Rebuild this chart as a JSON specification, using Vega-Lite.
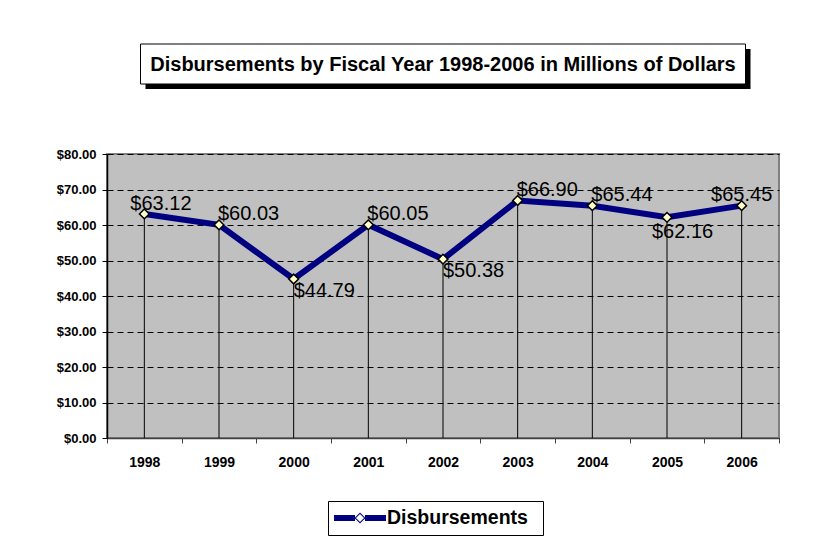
{
  "$schema": "https://vega.github.io/schema/vega-lite/v6.json",
  "background": "white",
  "padding": {"left": 55, "top": 43, "right": 10, "bottom": 10},
  "config": {
    "font": "Liberation Sans",
    "view": {"stroke": null}
  },
  "vconcat": [
    {
      "width": 605,
      "height": 40,
      "view": {"stroke": null, "fill": null},
      "data": {"values": [{"t": "Disbursements by Fiscal Year 1998-2006 in Millions of Dollars"}]},
      "layer": [
        {"mark": {"type": "rect", "fill": "black", "xOffset": 5, "x2Offset": 5, "yOffset": 5, "y2Offset": 5},
         "encoding": {
           "x": {"datum": 0, "type": "quantitative", "scale": {"domain": [0, 1], "nice": false, "zero": false}, "axis": null},
           "x2": {"datum": 1},
           "y": {"datum": 0, "type": "quantitative", "scale": {"domain": [0, 1], "nice": false, "zero": false}, "axis": null},
           "y2": {"datum": 1}
         }},
        {"mark": {"type": "rect", "fill": "white", "stroke": "black", "strokeWidth": 1},
         "encoding": {
           "x": {"datum": 0, "type": "quantitative", "scale": {"domain": [0, 1], "nice": false, "zero": false}, "axis": null},
           "x2": {"datum": 1},
           "y": {"datum": 0, "type": "quantitative", "scale": {"domain": [0, 1], "nice": false, "zero": false}, "axis": null},
           "y2": {"datum": 1}
         }},
        {"mark": {"type": "text", "font": "Liberation Sans", "fontSize": 20, "fontWeight": "bold", "color": "black", "align": "center", "baseline": "middle", "dy": 1},
         "encoding": {"text": {"field": "t"}}}
      ]
    },
    {
      "width": 672,
      "height": 284,
      "view": {"fill": "#C0C0C0", "stroke": "#808080", "strokeWidth": 2},
      "data": {"values": [
        {"year": "1998", "v": 63.12},
        {"year": "1999", "v": 60.03},
        {"year": "2000", "v": 44.79},
        {"year": "2001", "v": 60.05},
        {"year": "2002", "v": 50.38},
        {"year": "2003", "v": 66.90},
        {"year": "2004", "v": 65.44},
        {"year": "2005", "v": 62.16},
        {"year": "2006", "v": 65.45}
      ]},
      "encoding": {
        "x": {"field": "year", "type": "ordinal",
              "scale": {"type": "band", "paddingInner": 0, "paddingOuter": 0},
              "axis": {"title": null, "labelAngle": 0, "tickBand": "extent", "grid": false,
                       "labelFont": "Liberation Sans", "labelFontSize": 14, "labelFontWeight": "bold", "labelColor": "black",
                       "labelPadding": 12, "tickSize": 5, "tickColor": "#404040", "domainColor": "#404040", "domainWidth": 1.5}},
        "y": {"field": "v", "type": "quantitative",
              "scale": {"domain": [0, 80], "nice": false, "zero": true},
              "axis": {"title": null, "values": [0, 10, 20, 30, 40, 50, 60, 70, 80], "format": "$.2f",
                       "labelFont": "Liberation Sans", "labelFontSize": 13, "labelFontWeight": "bold", "labelColor": "black",
                       "labelPadding": 6, "tickSize": 5, "tickColor": "black", "domainColor": "black", "domainWidth": 1.5,
                       "grid": true, "gridColor": "black", "gridDash": [6, 4], "gridWidth": 1}}
      },
      "layer": [
        {"mark": {"type": "rule", "color": "black", "strokeWidth": 1},
         "encoding": {"y2": {"datum": 0}}},
        {"mark": {"type": "line", "color": "#000080", "strokeWidth": 6, "strokeJoin": "miter"}},
        {"mark": {"type": "point", "shape": "diamond", "filled": true, "fill": "#FFFFCC", "stroke": "black", "strokeWidth": 1.5, "size": 95, "opacity": 1}},
        {"transform": [{"filter": {"field": "year", "oneOf": ["1999", "2001", "2003", "2004"]}}],
         "mark": {"type": "text", "fontSize": 20, "align": "left", "baseline": "middle", "dx": -1, "dy": -11, "color": "black"},
         "encoding": {"text": {"field": "v", "type": "quantitative", "format": "$.2f"}}},
        {"transform": [{"filter": {"field": "year", "oneOf": ["1998"]}}],
         "mark": {"type": "text", "fontSize": 20, "align": "left", "baseline": "middle", "dx": -14, "dy": -10, "color": "black"},
         "encoding": {"text": {"field": "v", "type": "quantitative", "format": "$.2f"}}},
        {"transform": [{"filter": {"field": "year", "oneOf": ["2006"]}}],
         "mark": {"type": "text", "fontSize": 20, "align": "center", "baseline": "middle", "dx": 0, "dy": -11, "color": "black"},
         "encoding": {"text": {"field": "v", "type": "quantitative", "format": "$.2f"}}},
        {"transform": [{"filter": {"field": "year", "oneOf": ["2000", "2002"]}}],
         "mark": {"type": "text", "fontSize": 20, "align": "left", "baseline": "middle", "dx": 0, "dy": 12, "color": "black"},
         "encoding": {"text": {"field": "v", "type": "quantitative", "format": "$.2f"}}},
        {"transform": [{"filter": {"field": "year", "oneOf": ["2005"]}}],
         "mark": {"type": "text", "fontSize": 20, "align": "left", "baseline": "middle", "dx": -15, "dy": 15, "color": "black"},
         "encoding": {"text": {"field": "v", "type": "quantitative", "format": "$.2f"}}},
        {"transform": [{"filter": "datum.v < 0"}],
         "mark": {"type": "point", "filled": true},
         "encoding": {
           "fill": {"datum": "Disbursements", "type": "nominal", "scale": {"range": ["#000080"]},
                    "legend": {"title": "\u00a0", "titleOrient": "right", "titlePadding": 8, "titleFontSize": 19,
                               "orient": "none", "legendX": 221, "legendY": 457,
                               "strokeColor": "black", "fillColor": "white", "padding": 7,
                               "symbolType": "M-2.6,-0.3H-0.5V0.3H-2.6Z M0.5,-0.3H2.6V0.3H0.5Z M0,-0.55L0.55,0L0,0.55L-0.55,0Z M0,-0.4L-0.4,0L0,0.4L0.4,0Z",
                               "symbolSize": 400, "symbolOffset": 15, "symbolStrokeWidth": 0, "symbolOpacity": 1,
                               "labelFont": "Liberation Sans", "labelFontSize": 19.5, "labelFontWeight": "bold", "labelColor": "black",
                               "labelOffset": 17}}
         }}
      ]
    }
  ],
  "spacing": 70,
  "center": true,
  "bounds": "flush"
}
